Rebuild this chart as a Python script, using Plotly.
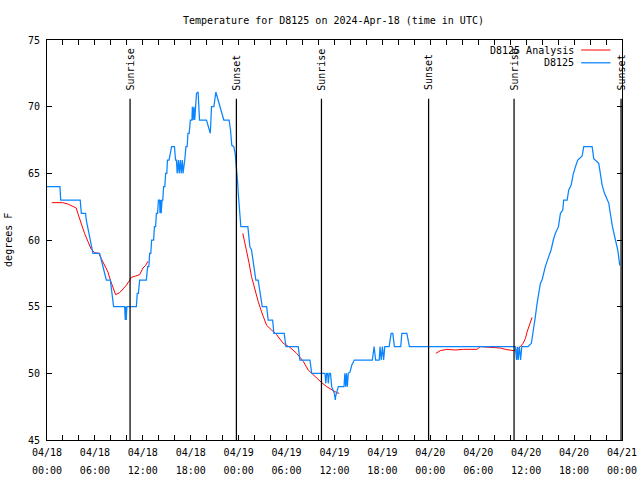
import pandas as pd
import plotly.graph_objects as go

START = pd.Timestamp("2024-04-18 00:00")

# Observations (hours since 04/18 00:00 UTC, degrees F)
obs_hours = [0.0, 1.62, 1.72, 4.16, 4.3, 4.83, 4.92, 5.24, 5.54, 5.75, 6.59, 6.8, 6.92, 7.2, 7.43, 7.93,
             8.05, 8.34, 9.72, 9.8, 9.86, 9.92, 10.0, 11.19, 11.3, 11.45, 11.6, 12.44, 12.6, 12.75, 12.86,
             13.0, 13.1, 13.35, 13.45, 13.6, 13.7, 13.85, 13.95, 14.1, 14.15, 14.25, 14.3, 14.4, 14.5,
             14.6, 14.75, 14.86, 15.0, 15.08, 15.28, 15.6, 15.96, 16.1, 16.21, 16.3, 16.45, 16.55, 16.7,
             16.8, 16.95, 17.03, 17.25, 17.4, 17.55, 17.65, 17.8, 17.95, 18.15, 18.2, 18.3, 18.4, 18.5,
             18.6, 18.72, 18.92, 19.1, 19.97, 20.17, 20.38, 20.45, 20.6, 20.9, 21.14, 21.43, 21.64, 21.93,
             22.14, 22.8, 22.98, 23.14, 23.39, 23.56, 23.73, 23.85, 23.95, 24.02, 24.1, 24.27, 25.15, 25.3,
             25.4, 25.61, 25.82, 26.03, 26.15, 26.44, 26.66, 26.87, 26.95, 27.5, 27.7, 28.25, 28.41, 29.7,
             29.92, 31.46, 31.67, 32.93, 33.14, 34.81, 34.9, 35.02, 35.15, 35.22, 35.35, 35.5, 35.65,
             35.98, 36.1, 36.15, 36.3, 36.48, 37.19, 37.3, 37.4, 37.5, 37.6, 37.73, 37.95, 38.16, 38.48,
             40.74, 40.96, 41.15, 41.6, 41.7, 41.85, 42.0, 42.15, 42.3, 42.84, 43.09, 43.3, 43.5, 44.3,
             44.43, 45.06, 45.38, 58.64, 58.8, 58.9, 59.0, 59.15, 59.3, 59.45, 60.24, 60.65, 60.94, 61.15,
             61.37, 61.57, 61.78, 61.99, 62.19, 62.4, 62.82, 63.12, 63.4, 63.66, 64.04, 64.29, 64.58, 64.7,
             65.13, 65.33, 65.63, 65.88, 66.17, 66.46, 67.01, 67.21, 68.26, 68.46, 69.09, 69.3, 69.52,
             69.81, 70.06, 70.35, 70.47, 70.8, 71.18, 71.47, 71.72]
obs_temps = [64, 64, 63, 63, 62, 62, 61.5, 60.6, 59.75, 59, 59, 58.5, 58, 57.5, 57, 57,
             56.25, 55, 55, 54, 55, 54, 55, 55, 56, 56, 57, 57, 58, 58, 59,
             59, 60, 60, 61, 61, 62, 62, 63, 63, 62, 63, 62, 63, 63,
             64, 64, 65, 65, 66, 66, 67, 67, 66, 66, 65, 66, 65, 66,
             65, 66, 65, 66, 67, 67, 68, 68, 69, 69, 70, 69, 70, 69,
             70, 71, 71.1, 69, 69, 68.5, 68, 68, 70, 70, 71.1, 70.5, 70, 69.5,
             69, 69, 68.25, 67.1, 67, 66.5, 65.5, 64.5, 63.5, 63, 62.4, 61, 61, 60,
             59.5, 59.25, 58.25, 57.5, 57, 57, 56.25, 55.25, 55, 55, 54, 54, 53, 53,
             52, 52, 51, 51, 50, 50, 49.25, 50, 50, 49.25, 50, 50, 49,
             48.5, 48, 48.3, 48.75, 49, 49, 50, 49, 50, 49, 50, 50.1, 50.6, 51,
             51, 52, 51, 51, 52, 51, 52, 51, 52, 52, 53, 53, 52, 52,
             53, 53, 52, 52, 51, 52, 51, 52, 51, 52, 52, 52.25, 53.25, 54.25,
             55.25, 56, 56.75, 57, 57.5, 58, 58.75, 59.25, 60, 60.5, 61, 62, 62.25, 63,
             63, 63.75, 64.1, 64.9, 65.5, 66, 66.3, 67, 67, 66.1, 65.75, 65, 64.1,
             63.5, 63.1, 62.75, 62.25, 61, 60, 59.25, 58.1]

# Analysis (three 12-hour segments)
ana1_hours = [0.6, 1.98, 2.61, 3.24, 3.66, 3.86, 4.08, 4.42, 4.7, 5.12, 5.54, 5.96, 6.5, 6.8, 7.21,
              7.63, 7.93, 8.25, 8.59, 9.09, 9.51, 9.93, 10.26, 10.56, 11.1, 11.6, 12.02, 12.36, 12.64]
ana1_temps = [62.8, 62.8, 62.7, 62.55, 62.4, 62.0, 61.6, 61.0, 60.5, 59.9, 59.3, 59.05, 59.0, 58.6, 58.1,
              57.6, 57.0, 56.4, 55.9, 56.05, 56.3, 56.6, 56.9, 57.2, 57.3, 57.4, 57.9, 58.1, 58.4]
ana2_hours = [24.52, 24.99, 25.31, 25.61, 26.03, 26.44, 26.87, 27.5, 28.12, 28.75, 29.58, 30.42,
              31.26, 32.09, 32.71, 33.56, 34.4, 35.02, 35.65, 36.28, 36.6]
ana2_temps = [60.5, 59.25, 58.25, 57.25, 56.25, 55.4, 54.6, 53.6, 53.25, 52.9, 52.25, 51.95,
              51.5, 50.9, 50.25, 49.75, 49.3, 49.0, 48.75, 48.55, 48.5]
ana3_hours = [48.7, 49.24, 50.07, 51.12, 52.16, 53.84, 54.25, 55.92, 56.76, 57.39, 58.43, 58.77,
              59.27, 59.61, 59.9, 60.11, 60.44, 60.74]
ana3_temps = [51.5, 51.7, 51.8, 51.75, 51.8, 51.8, 52.0, 51.95, 51.9, 51.8, 51.7, 51.75,
              52.0, 52.25, 52.6, 53.1, 53.75, 54.2]

sun_times = ["2024-04-18 10:24", "2024-04-18 23:43", "2024-04-19 10:22",
             "2024-04-19 23:47", "2024-04-20 10:29", "2024-04-20 23:53"]
sun_labels = ["Sunrise", "Sunset", "Sunrise", "Sunset", "Sunrise", "Sunset"]

title_text = "Temperature for D8125 on 2024-Apr-18 (time in UTC)"
y_title = "degrees F"
legend_names = ["D8125 Analysis", "D8125"]

RED = "#ff0000"
BLUE = "#0884ff"
FONT = "DejaVu Sans Mono"


def to_time(hours):
    return [START + pd.Timedelta(hours=h) for h in hours]


fig = go.Figure()

for hrs, tmp in [(ana1_hours, ana1_temps), (ana2_hours, ana2_temps), (ana3_hours, ana3_temps)]:
    fig.add_trace(go.Scatter(x=to_time(hrs), y=tmp, mode="lines",
                             line=dict(color=RED, width=1), showlegend=False,
                             name=legend_names[0]))

fig.add_trace(go.Scatter(x=to_time(obs_hours), y=obs_temps, mode="lines",
                         line=dict(color=BLUE, width=1.25), showlegend=False,
                         name=legend_names[1]))

x0 = START
x1 = START + pd.Timedelta(hours=72)

LINE_TOP = 0.853
for t, lab in zip(sun_times, sun_labels):
    ts = pd.Timestamp(t)
    fig.add_shape(type="line", xref="x", yref="paper", x0=ts, x1=ts, y0=0, y1=LINE_TOP,
                  line=dict(color="black", width=1.25), layer="above")
    fig.add_annotation(x=ts, y=LINE_TOP + 0.016, xref="x", yref="paper", text=lab,
                       textangle=-90, showarrow=False, xanchor="center", yanchor="bottom",
                       font=dict(family=FONT, size=10, color="black"))

# gnuplot-style key (text left, sample right)
key_rows = [(0.975, legend_names[0], RED), (0.943, legend_names[1], BLUE)]
for yy, name, col in key_rows:
    fig.add_annotation(x=0.92, y=yy, xref="paper", yref="paper", text=name, showarrow=False,
                       xanchor="right", yanchor="middle",
                       font=dict(family=FONT, size=10, color="black"))
    fig.add_shape(type="line", xref="paper", yref="paper", x0=0.929, x1=0.98, y0=yy, y1=yy,
                  line=dict(color=col, width=1.25 if col == BLUE else 1))

fig.add_annotation(x=-0.068, y=0.5, xref="paper", yref="paper", text=y_title, textangle=-90,
                   showarrow=False, xanchor="center", yanchor="middle",
                   font=dict(family=FONT, size=10, color="black"))

axis_common = dict(showline=True, linecolor="black", linewidth=1, mirror="ticks",
                   ticks="inside", ticklen=5, tickcolor="black", showgrid=False, zeroline=False,
                   automargin=False)

fig.update_layout(
    width=640, height=480,
    margin=dict(l=47, r=18, t=40, b=40, autoexpand=False),
    paper_bgcolor="white", plot_bgcolor="white",
    font=dict(family=FONT, size=10, color="black"),
    title=dict(text=title_text, x=0.521, xanchor="center", y=0.958, yanchor="middle",
               automargin=False, font=dict(family=FONT, size=10, color="black")),
    xaxis=dict(range=[x0, x1], type="date", dtick=6 * 3600 * 1000, tick0=x0,
               tickformat="%m/%d", ticklabelstandoff=3,
               minor=dict(dtick=2 * 3600 * 1000, ticks="inside", ticklen=5, tickcolor="black",
                          showgrid=False),
               **axis_common),
    xaxis2=dict(range=[x0, x1], type="date", dtick=6 * 3600 * 1000, tick0=x0,
                tickformat="%H:%M", overlaying="x", side="bottom", anchor="y",
                ticks="", showline=False, showgrid=False, zeroline=False,
                ticklabelstandoff=23, automargin=False),
    yaxis=dict(range=[45, 75], dtick=5, tick0=45, ticklabelstandoff=4, **axis_common),
)

# invisible trace to carry the second (time-of-day) label axis
fig.add_trace(go.Scatter(x=[x0, x1], y=[None, None], xaxis="x2", mode="lines",
                         showlegend=False, hoverinfo="skip"))

fig.write_html("out.html", config={"displayModeBar": False},
               post_script="document.body.style.margin='0';")
